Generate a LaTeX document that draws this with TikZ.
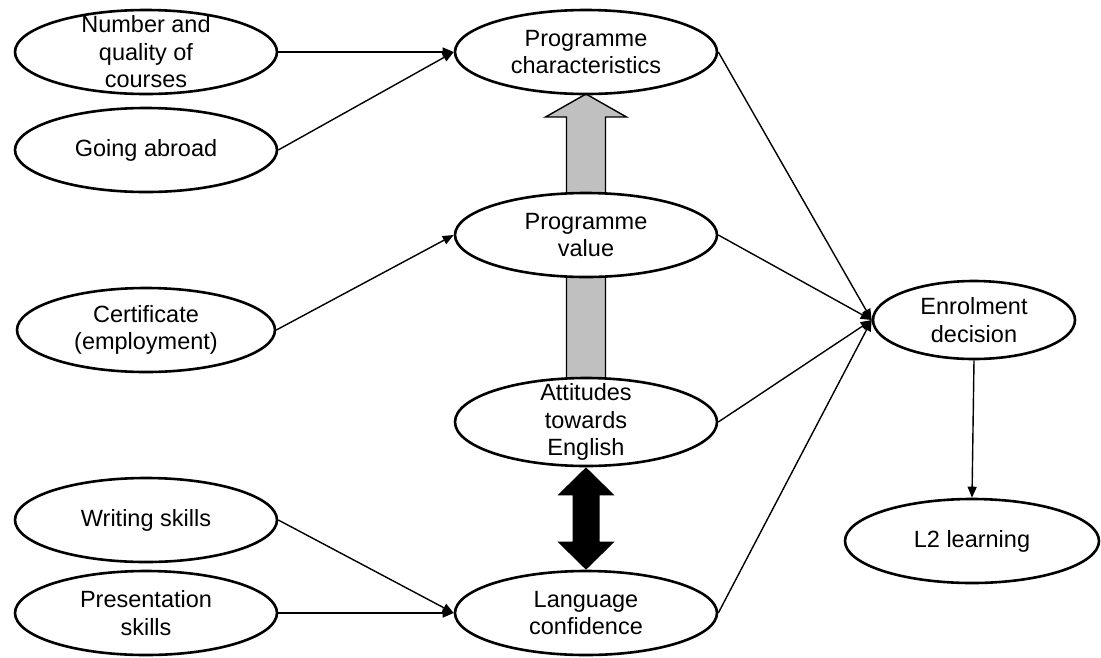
\documentclass[tikz,border=0pt]{standalone}
\usepackage{fontspec}
\setmainfont{Liberation Sans}
\usetikzlibrary{shapes.geometric,arrows.meta,calc}
\begin{document}
\begin{tikzpicture}[x=1pt,y=-1pt,
  ell/.style={draw,ellipse,line width=2.6pt,fill=white,minimum width=262pt,minimum height=84pt,inner sep=0pt},
  lbl/.style={align=center,font=\fontsize{23.5}{27.5}\selectfont,inner sep=0pt},
  conn/.style={line width=1.4pt,-{Triangle[length=11pt,width=9pt]}},
  bigarrow/.style={line width=1.4pt,line join=miter}]
\useasboundingbox (0,0) rectangle (1101,657);
% nodes (positions only, drawn later over arrows)
\path
  (146,52)  coordinate (pnq)
  (146,150) coordinate (pga)
  (146,330) coordinate (pce)
  (146,520) coordinate (pws)
  (146,613) coordinate (pps)
  (586,52)  coordinate (ppc)
  (586,235) coordinate (ppv)
  (586,422) coordinate (pat)
  (586,613) coordinate (plc)
  (974,320) coordinate (pen)
  (972,541) coordinate (pl2);
% grey arrow (behind ellipses)
\path (ppc) ++(0,42) coordinate (gt);
\path (pat) ++(0,-43) coordinate (gb);
\filldraw[bigarrow,fill={rgb,255:red,192;green,192;blue,192}]
  (gt) -- ($(gt)+(40.5,23)$) -- ($(gt)+(19.5,23)$) -- ($(gb)+(19.5,0)$)
  -- ($(gb)+(-19.5,0)$) -- ($(gt)+(-19.5,23)$) -- ($(gt)+(-40.5,23)$) -- cycle;
% ellipses
\node[ell] (nq) at (pnq) {};
\node[ell] (ga) at (pga) {};
\node[ell,minimum width=258pt] (ce) at (pce) {};
\node[ell] (ws) at (pws) {};
\node[ell] (ps) at (pps) {};
\node[ell] (pc) at (ppc) {};
\node[ell] (pv) at (ppv) {};
\node[ell,minimum height=88pt] (at) at (pat) {};
\node[ell] (lc) at (plc) {};
\node[ell,minimum width=202pt,minimum height=78pt] (en) at (pen) {};
\node[ell,minimum width=254pt] (l2) at (pl2) {};
% labels
\node[lbl] at (nq) {Number and\\quality of\\courses};
\node[lbl] at (ga) {Going abroad};
\node[lbl] at (ce) {Certificate\\(employment)};
\node[lbl] at (ws) {Writing skills};
\node[lbl] at (ps) {Presentation\\skills};
\node[lbl] at (pc) {Programme\\characteristics};
\node[lbl] at (pv) {Programme\\value};
\node[lbl] at (at) {Attitudes\\towards\\English};
\node[lbl] at (lc) {Language\\confidence};
\node[lbl] at (en) {Enrolment\\decision};
\node[lbl] at (l2) {L2 learning};
% black double arrow
\path (at.south) coordinate (bt) (lc.north) coordinate (bb);
\fill[black]
  (bt) -- ($(bt)+(28.5,28)$) -- ($(bt)+(13.5,28)$) -- ($(bb)+(13.5,-28)$)
  -- ($(bb)+(28.5,-28)$) -- (bb) -- ($(bb)+(-28.5,-28)$) -- ($(bb)+(-13.5,-28)$)
  -- ($(bt)+(-13.5,28)$) -- ($(bt)+(-28.5,28)$) -- cycle;
% connectors
\draw[conn] (nq.east) -- (pc.west);
\draw[conn] (ga.east) -- (pc.west);
\draw[conn] (ce.east) -- (pv.west);
\draw[conn] (ws.east) -- (lc.west);
\draw[conn] (ps.east) -- (lc.west);
\draw[conn] (pc.east) -- (en.west);
\draw[conn] (pv.east) -- (en.west);
\draw[conn] (at.east) -- (en.west);
\draw[conn] (lc.east) -- (en.west);
\draw[conn] (en.south) -- (l2.north);
\end{tikzpicture}
\end{document}
